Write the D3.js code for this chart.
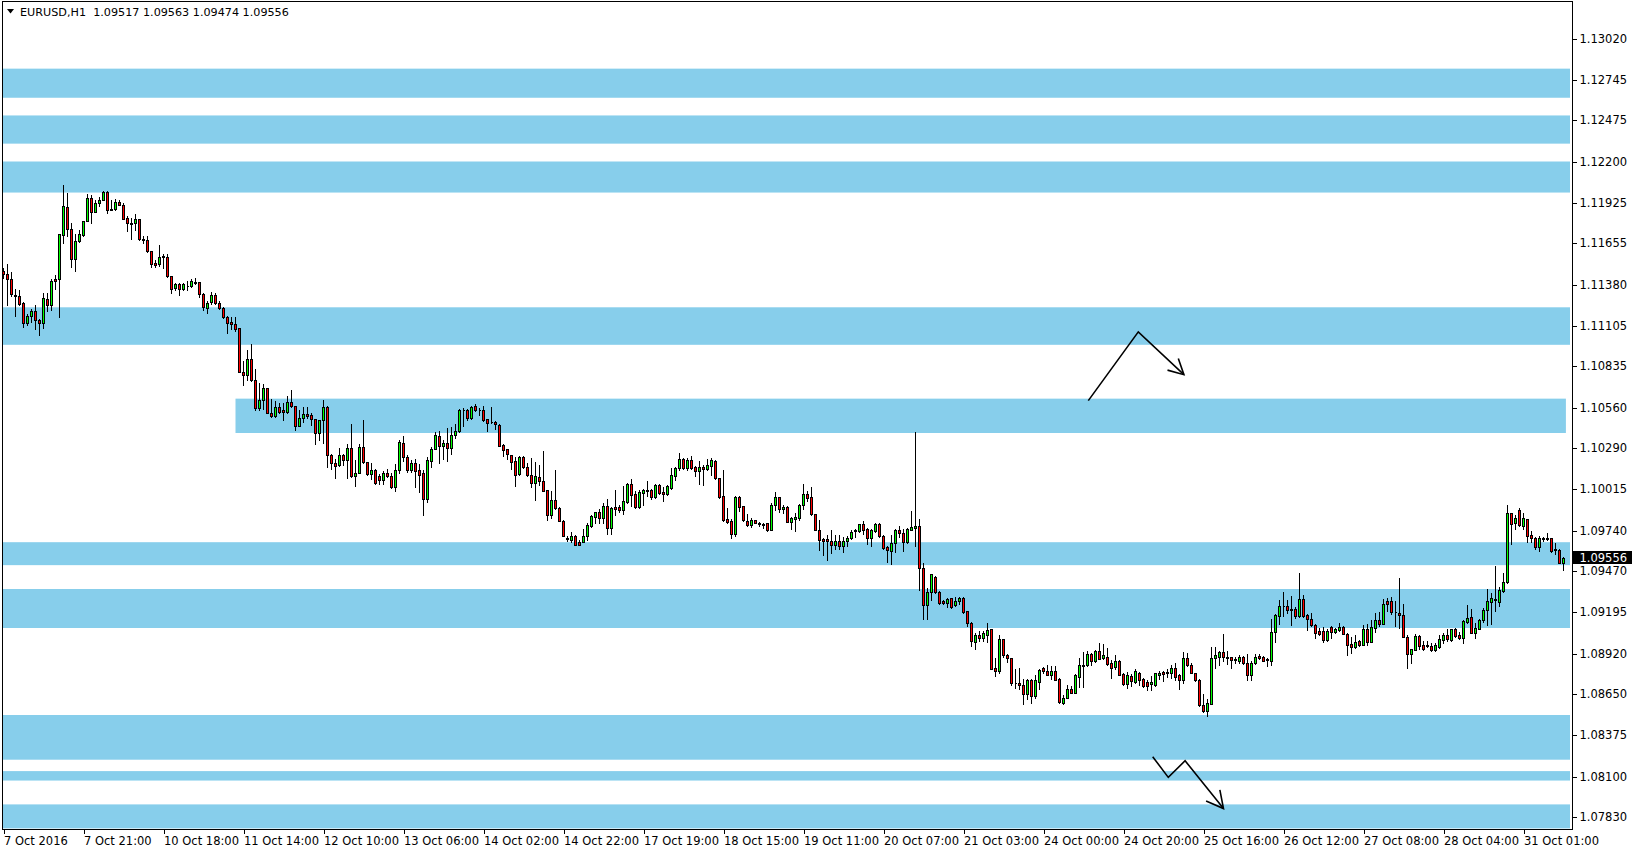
<!DOCTYPE html>
<html><head><meta charset="utf-8">
<script src="https://cdn.jsdelivr.net/npm/d3@7"></script>
<style>html,body{margin:0;padding:0;background:#fff;overflow:hidden}
svg text{font-family:"DejaVu Sans",sans-serif;font-size:11px}</style>
</head><body><svg id="c" width="1632" height="852"></svg>
<script>
const symbol = "EURUSD,H1";
const opens = [
1.11466,1.11450,1.11414,1.11310,1.11303,1.11252,1.11119,1.11168,1.11203,1.11141,
1.11121,1.11281,1.11239,1.11414,1.11414,1.11710,1.11894,1.11748,1.11548,1.11668,
1.11708,1.11799,1.11954,1.11861,1.11919,1.11941,1.11994,1.11883,1.11879,1.11928,
1.11910,1.11817,1.11788,1.11786,1.11812,1.11683,1.11674,1.11603,1.11523,1.11512,
1.11563,1.11563,1.11432,1.11352,1.11377,1.11348,1.11370,1.11368,1.11394,1.11394,
1.11312,1.11222,1.11260,1.11310,1.11255,1.11222,1.11162,1.11126,1.11115,1.11084,
1.10795,1.10775,1.10877,1.10737,1.10551,1.10606,1.10688,1.10522,1.10500,1.10562,
1.10537,1.10526,1.10595,1.10568,1.10435,1.10488,1.10511,1.10504,1.10482,1.10388,
1.10475,1.10562,1.10242,1.10184,1.10175,1.10242,1.10206,1.10288,1.10099,1.10122,
1.10295,1.10195,1.10115,1.10142,1.10100,1.10073,1.10122,1.10100,1.10028,1.10141,
1.10321,1.10230,1.10139,1.10188,1.10137,1.10117,1.09946,1.10201,1.10281,1.10370,
1.10299,1.10317,1.10286,1.10374,1.10399,1.10537,1.10543,1.10486,1.10570,1.10543,
1.10537,1.10477,1.10461,1.10463,1.10443,1.10310,1.10281,1.10243,1.10197,1.10112,
1.10226,1.10163,1.10110,1.10052,1.10094,1.10068,1.10008,1.09839,1.09943,1.09888,
1.09803,1.09690,1.09674,1.09701,1.09663,1.09661,1.09700,1.09766,1.09826,1.09857,
1.09822,1.09897,1.09753,1.09891,1.09891,1.09873,1.09928,1.10044,1.09977,1.09895,
1.09986,1.10004,1.10004,1.09959,1.10037,1.09993,1.09982,1.10022,1.10100,1.10153,
1.10211,1.10153,1.10204,1.10157,1.10133,1.10162,1.10146,1.10166,1.10200,1.10084,
1.09964,1.09811,1.09797,1.09711,1.09957,1.09897,1.09802,1.09771,1.09804,1.09788,
1.09782,1.09784,1.09742,1.09906,1.09957,1.09880,1.09895,1.09795,1.09810,1.09817,
1.09906,1.09977,1.09961,1.09844,1.09741,1.09682,1.09682,1.09668,1.09639,1.09670,
1.09633,1.09664,1.09686,1.09733,1.09735,1.09777,1.09744,1.09686,1.09733,1.09777,
1.09701,1.09626,1.09600,1.09653,1.09741,1.09717,1.09659,1.09741,1.09753,1.09770,
1.09488,1.09239,1.09328,1.09430,1.09328,1.09266,1.09255,1.09284,1.09237,1.09266,
1.09288,1.09197,1.09120,1.08995,1.09037,1.09022,1.09040,1.09077,1.08817,1.08800,
1.09011,1.08904,1.08888,1.08717,1.08722,1.08708,1.08646,1.08737,1.08633,1.08726,
1.08817,1.08797,1.08773,1.08797,1.08744,1.08586,1.08620,1.08677,1.08655,1.08760,
1.08842,1.08837,1.08911,1.08864,1.08931,1.08884,1.08895,1.08851,1.08826,1.08866,
1.08777,1.08713,1.08768,1.08726,1.08784,1.08744,1.08726,1.08711,1.08706,1.08775,
1.08793,1.08788,1.08788,1.08817,1.08771,1.08739,1.08888,1.08839,1.08784,1.08742,
1.08575,1.08533,1.08580,1.08884,1.08893,1.08928,1.08895,1.08891,1.08875,1.08864,
1.08893,1.08855,1.08773,1.08853,1.08897,1.08893,1.08877,1.08868,1.09062,1.09168,
1.09235,1.09235,1.09215,1.09215,1.09166,1.09282,1.09171,1.09148,1.09108,1.09066,
1.09064,1.09006,1.09091,1.09062,1.09073,1.09091,1.09048,1.08979,1.08962,1.08997,
1.08975,1.09077,1.08995,1.09088,1.09142,1.09115,1.09268,1.09268,1.09195,1.09188,
1.09175,1.09028,1.08913,1.08942,1.09031,1.08971,1.08968,1.08964,1.08939,1.08959,
1.09008,1.09037,1.09008,1.09077,1.09037,1.09019,1.09126,1.09157,1.09051,1.09082,
1.09137,1.09206,1.09262,1.09277,1.09262,1.09333,1.09393,1.09851,1.09784,1.09875,
1.09768,1.09811,1.09704,1.09688,1.09626,1.09684,1.09679,1.09684,1.09611,1.09606,
1.09517];
const highs = [
1.11488,1.11514,1.11461,1.11350,1.11343,1.11259,1.11177,1.11210,1.11243,1.11150,
1.11317,1.11317,1.11414,1.11443,1.11714,1.12043,1.11988,1.11788,1.11714,1.11741,
1.11801,1.11977,1.11972,1.11943,1.11959,1.12003,1.11999,1.11943,1.11946,1.11943,
1.11921,1.11832,1.11817,1.11848,1.11812,1.11699,1.11699,1.11603,1.11543,1.11643,
1.11577,1.11577,1.11432,1.11388,1.11388,1.11388,1.11399,1.11414,1.11421,1.11394,
1.11320,1.11270,1.11330,1.11320,1.11270,1.11230,1.11170,1.11162,1.11162,1.11089,
1.10866,1.10937,1.10982,1.10811,1.10722,1.10711,1.10690,1.10611,1.10600,1.10588,
1.10588,1.10633,1.10671,1.10570,1.10537,1.10562,1.10562,1.10522,1.10482,1.10475,
1.10604,1.10565,1.10244,1.10211,1.10284,1.10248,1.10311,1.10444,1.10204,1.10315,
1.10471,1.10195,1.10188,1.10148,1.10111,1.10133,1.10144,1.10122,1.10177,1.10343,
1.10366,1.10243,1.10208,1.10210,1.10177,1.10139,1.10230,1.10294,1.10390,1.10399,
1.10343,1.10417,1.10430,1.10448,1.10550,1.10554,1.10550,1.10568,1.10577,1.10554,
1.10570,1.10481,1.10563,1.10468,1.10448,1.10314,1.10281,1.10243,1.10226,1.10234,
1.10234,1.10186,1.10217,1.10194,1.10172,1.10270,1.10008,1.10003,1.10137,1.09892,
1.09806,1.09699,1.09730,1.09706,1.09672,1.09750,1.09788,1.09837,1.09862,1.09877,
1.09922,1.09944,1.09893,1.10004,1.09904,1.10033,1.10055,1.10077,1.09999,1.10006,
1.10011,1.10064,1.10011,1.10048,1.10044,1.10026,1.10039,1.10153,1.10162,1.10255,
1.10222,1.10222,1.10233,1.10166,1.10200,1.10171,1.10211,1.10217,1.10206,1.10088,
1.10137,1.09888,1.09811,1.09966,1.09966,1.09902,1.09844,1.09817,1.09806,1.09793,
1.09784,1.09788,1.09917,1.09995,1.09962,1.09904,1.09899,1.09828,1.09855,1.09915,
1.10044,1.09997,1.10028,1.09848,1.09804,1.09688,1.09710,1.09737,1.09704,1.09708,
1.09695,1.09699,1.09737,1.09748,1.09781,1.09797,1.09753,1.09748,1.09788,1.09784,
1.09708,1.09633,1.09710,1.09748,1.09770,1.09748,1.09753,1.09870,1.10393,1.09815,
1.09521,1.09355,1.09450,1.09435,1.09333,1.09273,1.09284,1.09288,1.09293,1.09295,
1.09293,1.09200,1.09130,1.09055,1.09066,1.09066,1.09122,1.09077,1.08884,1.09037,
1.09011,1.08911,1.08888,1.08811,1.08822,1.08744,1.08748,1.08744,1.08771,1.08811,
1.08828,1.08837,1.08833,1.08833,1.08755,1.08637,1.08704,1.08700,1.08777,1.08888,
1.08926,1.08931,1.08922,1.08937,1.08988,1.08977,1.08955,1.08873,1.08904,1.08873,
1.08788,1.08793,1.08779,1.08815,1.08793,1.08755,1.08740,1.08764,1.08788,1.08800,
1.08797,1.08815,1.08837,1.08855,1.08782,1.08928,1.08922,1.08855,1.08788,1.08748,
1.08644,1.08615,1.08962,1.08962,1.08933,1.09044,1.08933,1.08893,1.08895,1.08904,
1.08900,1.08915,1.08866,1.08915,1.08911,1.08900,1.08884,1.09144,1.09177,1.09273,
1.09328,1.09273,1.09300,1.09226,1.09455,1.09304,1.09177,1.09188,1.09113,1.09088,
1.09093,1.09077,1.09100,1.09088,1.09117,1.09100,1.09055,1.09024,1.09042,1.09006,
1.09104,1.09111,1.09137,1.09188,1.09195,1.09277,1.09284,1.09295,1.09264,1.09417,
1.09244,1.09037,1.08948,1.09044,1.09037,1.08999,1.08999,1.08984,1.08988,1.09037,
1.09051,1.09077,1.09082,1.09086,1.09059,1.09139,1.09242,1.09211,1.09122,1.09144,
1.09222,1.09348,1.09322,1.09500,1.09362,1.09455,1.09908,1.09855,1.09837,1.09888,
1.09855,1.09815,1.09733,1.09695,1.09699,1.09695,1.09717,1.09688,1.09655,1.09611,
1.09563];
const lows = [
1.11421,1.11239,1.11299,1.11166,1.11239,1.11092,1.11110,1.11128,1.11081,1.11039,
1.11086,1.11197,1.11208,1.11346,1.11159,1.11654,1.11699,1.11492,1.11466,1.11663,
1.11697,1.11799,1.11786,1.11857,1.11899,1.11937,1.11852,1.11874,1.11874,1.11906,
1.11810,1.11732,1.11677,1.11743,1.11674,1.11652,1.11594,1.11492,1.11492,1.11499,
1.11488,1.11428,1.11319,1.11343,1.11306,1.11343,1.11343,1.11359,1.11377,1.11292,
1.11205,1.11188,1.11250,1.11250,1.11210,1.11155,1.11055,1.11077,1.11066,1.10793,
1.10706,1.10737,1.10733,1.10537,1.10537,1.10548,1.10517,1.10493,1.10493,1.10522,
1.10473,1.10522,1.10562,1.10404,1.10431,1.10462,1.10488,1.10439,1.10315,1.10337,
1.10322,1.10159,1.10148,1.10088,1.10166,1.10173,1.10088,1.10095,1.10033,1.10117,
1.10188,1.10106,1.10077,1.10048,1.10044,1.10044,1.10093,1.10020,1.10003,1.10121,
1.10203,1.10128,1.10128,1.10026,1.09992,1.09843,1.09928,1.10159,1.10277,1.10186,
1.10212,1.10199,1.10250,1.10354,1.10394,1.10432,1.10474,1.10481,1.10532,1.10506,
1.10466,1.10403,1.10452,1.10410,1.10297,1.10232,1.10210,1.10150,1.10032,1.10106,
1.10154,1.10099,1.10030,1.09943,1.10043,1.09997,1.09806,1.09821,1.09881,1.09799,
1.09697,1.09666,1.09657,1.09641,1.09637,1.09657,1.09673,1.09762,1.09788,1.09788,
1.09788,1.09711,1.09711,1.09837,1.09860,1.09846,1.09922,1.09900,1.09888,1.09888,
1.09906,1.09966,1.09948,1.09955,1.09982,1.09931,1.09975,1.10015,1.10071,1.10140,
1.10148,1.10140,1.10148,1.10100,1.10048,1.10039,1.10137,1.10104,1.10077,1.09953,
1.09802,1.09784,1.09688,1.09700,1.09864,1.09800,1.09766,1.09762,1.09784,1.09764,
1.09753,1.09733,1.09737,1.09873,1.09860,1.09851,1.09790,1.09750,1.09733,1.09806,
1.09877,1.09933,1.09837,1.09739,1.09606,1.09573,1.09539,1.09584,1.09610,1.09610,
1.09593,1.09633,1.09681,1.09693,1.09730,1.09713,1.09650,1.09635,1.09728,1.09695,
1.09615,1.09530,1.09515,1.09593,1.09693,1.09599,1.09653,1.09737,1.09633,1.09339,
1.09150,1.09144,1.09273,1.09321,1.09248,1.09244,1.09226,1.09219,1.09233,1.09250,
1.09188,1.09100,1.08970,1.08948,1.09000,1.09000,1.08993,1.08811,1.08766,1.08784,
1.08893,1.08860,1.08706,1.08688,1.08682,1.08582,1.08611,1.08589,1.08622,1.08677,
1.08788,1.08771,1.08744,1.08740,1.08586,1.08582,1.08617,1.08651,1.08651,1.08695,
1.08693,1.08833,1.08837,1.08860,1.08877,1.08877,1.08842,1.08753,1.08815,1.08771,
1.08708,1.08688,1.08702,1.08720,1.08708,1.08695,1.08671,1.08673,1.08699,1.08744,
1.08733,1.08762,1.08755,1.08737,1.08677,1.08717,1.08833,1.08784,1.08733,1.08566,
1.08526,1.08500,1.08580,1.08820,1.08837,1.08866,1.08848,1.08820,1.08851,1.08855,
1.08844,1.08739,1.08737,1.08848,1.08877,1.08864,1.08833,1.08837,1.08993,1.09111,
1.09166,1.09188,1.09104,1.09151,1.09162,1.09162,1.09073,1.09100,1.09022,1.09042,
1.08995,1.09000,1.09022,1.09055,1.09066,1.09044,1.08906,1.08922,1.08955,1.08966,
1.08971,1.08973,1.08991,1.09062,1.09097,1.09111,1.09199,1.09177,1.09099,1.09088,
1.09024,1.08822,1.08851,1.08937,1.08944,1.08942,1.08959,1.08933,1.08933,1.08955,
1.08988,1.08999,1.09002,1.09028,1.09015,1.08984,1.09122,1.09051,1.09019,1.09077,
1.09126,1.09104,1.09113,1.09202,1.09233,1.09326,1.09388,1.09644,1.09748,1.09766,
1.09744,1.09660,1.09660,1.09611,1.09600,1.09666,1.09673,1.09595,1.09577,1.09517,
1.09474];
const closes = [
1.11448,1.11414,1.11314,1.11297,1.11246,1.11121,1.11168,1.11201,1.11141,1.11119,
1.11288,1.11239,1.11403,1.11401,1.11714,1.11899,1.11748,1.11548,1.11668,1.11714,
1.11801,1.11954,1.11857,1.11919,1.11943,1.11994,1.11874,1.11874,1.11928,1.11906,
1.11814,1.11786,1.11783,1.11812,1.11679,1.11672,1.11599,1.11512,1.11510,1.11563,
1.11568,1.11432,1.11349,1.11377,1.11346,1.11381,1.11366,1.11399,1.11388,1.11314,
1.11224,1.11255,1.11310,1.11255,1.11222,1.11160,1.11122,1.11115,1.11077,1.10795,
1.10775,1.10882,1.10737,1.10551,1.10608,1.10688,1.10522,1.10500,1.10562,1.10528,
1.10528,1.10595,1.10566,1.10435,1.10488,1.10511,1.10500,1.10480,1.10388,1.10475,
1.10562,1.10242,1.10188,1.10166,1.10242,1.10206,1.10288,1.10099,1.10122,1.10295,
1.10193,1.10111,1.10142,1.10055,1.10073,1.10122,1.10100,1.10026,1.10141,1.10328,
1.10226,1.10137,1.10186,1.10132,1.10106,1.09946,1.10208,1.10281,1.10374,1.10299,
1.10317,1.10286,1.10374,1.10403,1.10537,1.10543,1.10486,1.10561,1.10539,1.10537,
1.10474,1.10454,1.10459,1.10446,1.10303,1.10274,1.10246,1.10192,1.10110,1.10226,
1.10159,1.10106,1.10052,1.10097,1.10066,1.10003,1.09839,1.09941,1.09886,1.09801,
1.09703,1.09677,1.09699,1.09643,1.09643,1.09699,1.09775,1.09831,1.09857,1.09822,
1.09897,1.09755,1.09888,1.09877,1.09871,1.09931,1.10044,1.09975,1.09891,1.09993,
1.10004,1.10000,1.09959,1.10037,1.09988,1.09982,1.10033,1.10104,1.10155,1.10211,
1.10155,1.10204,1.10153,1.10133,1.10162,1.10146,1.10171,1.10206,1.10086,1.09957,
1.09806,1.09793,1.09711,1.09962,1.09891,1.09804,1.09775,1.09804,1.09786,1.09779,
1.09775,1.09742,1.09908,1.09957,1.09880,1.09895,1.09795,1.09817,1.09826,1.09908,
1.09977,1.09953,1.09844,1.09739,1.09675,1.09666,1.09664,1.09639,1.09668,1.09633,
1.09668,1.09690,1.09730,1.09737,1.09777,1.09739,1.09686,1.09737,1.09777,1.09699,
1.09619,1.09604,1.09655,1.09741,1.09717,1.09659,1.09744,1.09757,1.09770,1.09488,
1.09239,1.09328,1.09446,1.09328,1.09253,1.09255,1.09277,1.09226,1.09268,1.09288,
1.09195,1.09120,1.09000,1.09040,1.09022,1.09053,1.09073,1.08815,1.08800,1.09011,
1.08904,1.08888,1.08717,1.08722,1.08706,1.08646,1.08740,1.08633,1.08742,1.08804,
1.08797,1.08773,1.08797,1.08740,1.08593,1.08622,1.08677,1.08655,1.08773,1.08837,
1.08831,1.08911,1.08866,1.08931,1.08882,1.08904,1.08846,1.08817,1.08866,1.08773,
1.08713,1.08773,1.08733,1.08797,1.08742,1.08702,1.08700,1.08726,1.08784,1.08786,
1.08780,1.08793,1.08817,1.08759,1.08739,1.08888,1.08839,1.08788,1.08739,1.08571,
1.08533,1.08584,1.08884,1.08904,1.08928,1.08893,1.08884,1.08873,1.08882,1.08893,
1.08851,1.08773,1.08855,1.08895,1.08886,1.08866,1.08873,1.09062,1.09171,1.09235,
1.09231,1.09206,1.09206,1.09166,1.09282,1.09166,1.09144,1.09106,1.09051,1.09048,
1.09004,1.09064,1.09062,1.09080,1.09091,1.09046,1.08975,1.08962,1.08991,1.08975,
1.09077,1.08995,1.09091,1.09142,1.09115,1.09248,1.09248,1.09193,1.09191,1.09173,
1.09028,1.08913,1.08944,1.09031,1.08968,1.08948,1.08973,1.08942,1.08971,1.09011,
1.09037,1.09011,1.09077,1.09033,1.09019,1.09131,1.09155,1.09055,1.09084,1.09137,
1.09208,1.09264,1.09284,1.09271,1.09339,1.09395,1.09851,1.09782,1.09822,1.09773,
1.09817,1.09700,1.09686,1.09626,1.09684,1.09679,1.09686,1.09600,1.09604,1.09522,
1.09556];

const xTickIdx = [0,20,40,60,80,100,120,140,160,180,200,220,240,260,280,300,320,340,360,380];
const xTickLabels = ["7 Oct 2016","7 Oct 21:00","10 Oct 18:00","11 Oct 14:00","12 Oct 10:00","13 Oct 06:00","14 Oct 02:00","14 Oct 22:00","17 Oct 19:00","18 Oct 15:00","19 Oct 11:00","20 Oct 07:00","21 Oct 03:00","24 Oct 00:00","24 Oct 20:00","25 Oct 16:00","26 Oct 12:00","27 Oct 08:00","28 Oct 04:00","31 Oct 01:00"];
const yTickLabels = ["1.13020","1.12745","1.12475","1.12200","1.11925","1.11655","1.11380","1.11105","1.10835","1.10560","1.10290","1.10015","1.09740","1.09470","1.09195","1.08920","1.08650","1.08375","1.08100","1.07830"];

const bandTops    = [1.12819,1.12507,1.12200,1.11228,1.10619,1.09662,1.09350,1.08510,1.08136,1.07914];
const bandBottoms = [1.12625,1.12319,1.11993,1.10978,1.10390,1.09509,1.09090,1.08212,1.08073,1.07754];
const bandStartIdx = [null,null,null,null,58,null,null,null,null,null];
const bandEndIdx   = [null,null,null,null,390.6,null,null,null,null,null];

const arrowUpPts   = [[271.2,1.10606],[283.7,1.11064],[295.1,1.10779]];
const arrowDownPts = [[287.3,1.08232],[291.2,1.08094],[295.4,1.08205],[305.0,1.07886]];

// ---------------------------------------------------------------
const W = 1632, H = 852;
const L = 2, T = 1, R = 1572, B = 829;
const svg = d3.select("#c");
const n = closes.length;
const x = d3.scaleLinear().domain([0, n - 1]).range([3.5, 3.5 + 4 * (n - 1)]);
const y = d3.scaleLinear().domain([1.07830, 1.13020]).range([817, 38.5]);

svg.append("rect").attr("x",0).attr("y",0).attr("width",W).attr("height",H).attr("fill","#fff");

// bands
svg.append("g").selectAll("rect").data(bandTops).join("rect")
  .attr("x",(d,i)=> bandStartIdx[i]==null ? L+1 : x(bandStartIdx[i]))
  .attr("width",(d,i)=>{
     const x0 = bandStartIdx[i]==null ? L+1 : x(bandStartIdx[i]);
     const x1 = bandEndIdx[i]==null ? R-2 : x(bandEndIdx[i]);
     return x1 - x0; })
  .attr("y",d=>y(d))
  .attr("height",(d,i)=> Math.min(y(bandBottoms[i]), B) - y(d))
  .attr("fill","#87CEEB");

// candles
const idx = d3.range(n);
const cg = svg.append("g").attr("shape-rendering","crispEdges");
cg.selectAll("line.wick").data(idx).join("line")
  .attr("class","wick")
  .attr("x1",i=>x(i)).attr("x2",i=>x(i))
  .attr("y1",i=>Math.floor(y(highs[i])))
  .attr("y2",i=>Math.floor(y(lows[i]))+1)
  .attr("stroke","#000").attr("stroke-width",1);
cg.selectAll("g.body").data(idx).join(g=>{
  const gg = g.append("g").attr("class","body");
  gg.each(function(i){
    const sel = d3.select(this);
    const yt = Math.floor(y(Math.max(opens[i],closes[i]))) + 0.5;
    const yb = Math.floor(y(Math.min(opens[i],closes[i]))) + 0.5;
    if (yb - yt < 1) {
      sel.append("line").attr("x1",x(i)-1).attr("x2",x(i)+1)
        .attr("y1",yt).attr("y2",yt).attr("stroke","#000").attr("stroke-width",1);
    } else {
      sel.append("rect").attr("x",x(i)-1).attr("width",2)
        .attr("y",yt).attr("height",yb-yt)
        .attr("fill", closes[i] >= opens[i] ? "#00FF00" : "#FF0000")
        .attr("stroke","#000").attr("stroke-width",1);
    }
  });
  return gg;
});

// arrows
function drawArrow(pts, headLen, headAng){
  const line = d3.line().x(d=>x(d[0])).y(d=>y(d[1]));
  svg.append("path").attr("d",line(pts)).attr("fill","none")
    .attr("stroke","#000").attr("stroke-width",1.6).attr("stroke-linejoin","miter");
  const p1 = pts[pts.length-2], p2 = pts[pts.length-1];
  const ax = x(p2[0]), ay = y(p2[1]);
  const ang = Math.atan2(ay - y(p1[1]), ax - x(p1[0]));
  const h = [
    [ax - headLen*Math.cos(ang - headAng), ay - headLen*Math.sin(ang - headAng)],
    [ax, ay],
    [ax - headLen*Math.cos(ang + headAng), ay - headLen*Math.sin(ang + headAng)]
  ];
  svg.append("path").attr("d", d3.line()(h)).attr("fill","none")
    .attr("stroke","#000").attr("stroke-width",1.6);
}
drawArrow(arrowUpPts, 17, Math.PI/6.5);
drawArrow(arrowDownPts, 19, Math.PI/6.5);

// frame
const fr = svg.append("g").attr("shape-rendering","crispEdges").attr("stroke","#000").attr("stroke-width",1);
fr.append("line").attr("x1",L+0.5).attr("x2",L+0.5).attr("y1",T).attr("y2",B+1);
fr.append("line").attr("x1",L).attr("x2",R+1).attr("y1",T+0.5).attr("y2",T+0.5);
fr.append("line").attr("x1",R+0.5).attr("x2",R+0.5).attr("y1",T).attr("y2",B+1);
fr.append("line").attr("x1",L).attr("x2",R+1).attr("y1",B+0.5).attr("y2",B+0.5);

// y axis
const yAxis = d3.axisRight(y).tickValues(yTickLabels.map(Number))
  .tickFormat((d,i)=>yTickLabels[i]).tickSize(4).tickPadding(3);
const yg = svg.append("g").attr("transform",`translate(${R+0.5},0)`).call(yAxis);
yg.select(".domain").remove();
yg.attr("font-family","DejaVu Sans").attr("font-size",11);
yg.selectAll("text").attr("fill","#000").style("font-size","11.5px");
yg.selectAll("line").attr("stroke","#000").attr("shape-rendering","crispEdges");

// x axis
const xAxis = d3.axisBottom(x).tickValues(xTickIdx)
  .tickFormat((d,i)=>xTickLabels[i]).tickSize(4).tickPadding(3);
const xg = svg.append("g").attr("transform",`translate(0,${B+0.5})`).call(xAxis);
xg.select(".domain").remove();
xg.attr("font-family","DejaVu Sans").attr("font-size",11);
xg.selectAll("text").attr("text-anchor","start").attr("dx",0).attr("x",0).attr("fill","#000").style("font-size","11.5px");
xg.selectAll("line").attr("stroke","#000").attr("shape-rendering","crispEdges");

// current price box
const last = closes[n-1];
const py = y(last);
svg.append("rect").attr("x",R+1).attr("y",Math.round(py)-7).attr("width",W-R-1).attr("height",13).attr("fill","#000");
svg.append("text").attr("x",R+7.5).attr("y",py).attr("dy","0.34em").style("font-size","11.5px")
  .attr("fill","#fff").text(d3.format(".5f")(last));

// header
svg.append("path").attr("d","M7,9 L14,9 L10.5,13.5 Z").attr("fill","#000");
const f5 = d3.format(".5f");
svg.append("text").attr("x",20).attr("y",16).attr("fill","#000").style("white-space","pre").style("font-size","11.2px")
  .text(`${symbol}  ${f5(opens[n-1])} ${f5(highs[n-1])} ${f5(lows[n-1])} ${f5(closes[n-1])}`);
</script></body></html>
